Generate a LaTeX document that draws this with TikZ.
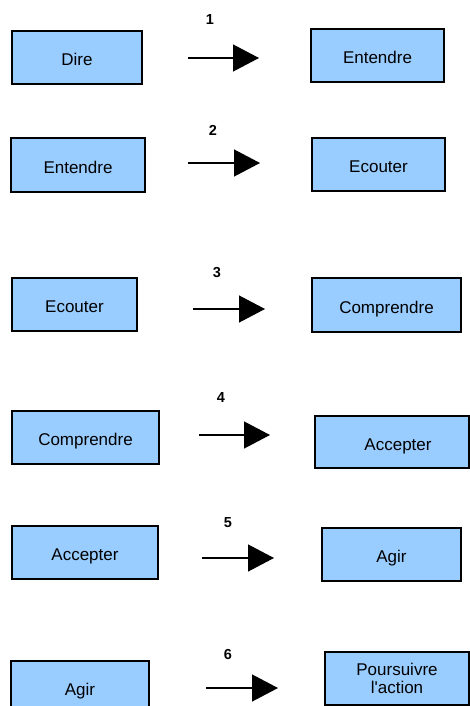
\documentclass[tikz,border=0pt]{standalone}
\usepackage{fontspec}
\setmainfont{Liberation Sans}
\usetikzlibrary{arrows.meta}
\definecolor{boxblue}{RGB}{153,204,255}

\begin{document}
\begin{tikzpicture}[
		x=1pt, y=-1pt,
		>={Triangle[length=26pt,width=27pt]},
		box/.style={
			draw,
			line width=1.5pt,
			fill=boxblue,
			inner sep=0pt,
			align=center,
			text height=16pt,
			text depth=0pt,
			font=\fontsize{17}{18}\selectfont
		},
		flow/.style={->, line width=1.3pt},
		num/.style={font=\bfseries\fontsize{14.5}{15}\selectfont}
		]
		
		\useasboundingbox (0,0) rectangle (470,706);
		\clip (0,0) rectangle (470,706);
		
		% Step 1
		\node[box, minimum width=130pt, minimum height=53pt] (dire) at (77,57.5) {Dire};
		\node[box, minimum width=133pt, minimum height=53pt] (entendreB) at (377.5,55.5) {Entendre};
		\coordinate (s1) at (188,58);
		\coordinate (t1) at (259,58);
		\draw[flow] (s1) -- (t1);
		\node[num] (n1) at (210,20) {1};
		
		% Step 2
		\node[box, minimum width=134pt, minimum height=54pt] (entendreA) at (78,165) {Entendre};
		\node[box, minimum width=133pt, minimum height=53pt] (ecouterB) at (378.5,164.5) {Ecouter};
		\coordinate (s2) at (188,163);
		\coordinate (t2) at (260,163);
		\draw[flow] (s2) -- (t2);
		\node[num] (n2) at (213,130) {2};
		
		% Step 3
		\node[box, minimum width=125pt, minimum height=53pt] (ecouterA) at (74.5,304.5) {Ecouter};
		\node[box, minimum width=149pt, minimum height=54pt] (comprendreB) at (386.5,305) {Comprendre};
		\coordinate (s3) at (193,309);
		\coordinate (t3) at (265,309);
		\draw[flow] (s3) -- (t3);
		\node[num] (n3) at (217,273) {3};
		
		% Step 4
		\node[box, minimum width=147pt, minimum height=53pt] (comprendreA) at (85.5,437.5) {Comprendre};
		\node[box, minimum width=154pt, minimum height=52pt] (accepterB) at (392,442) {\hspace*{12pt}Accepter};
		\coordinate (s4) at (199,435);
		\coordinate (t4) at (270,435);
		\draw[flow] (s4) -- (t4);
		\node[num] (n4) at (221,398) {4};
		
		% Step 5
		\node[box, minimum width=146pt, minimum height=53pt] (accepterA) at (85,552.5) {Accepter};
		\node[box, minimum width=139pt, minimum height=53pt] (agirB) at (391.5,554.5) {Agir};
		\coordinate (s5) at (202,558);
		\coordinate (t5) at (274,558);
		\draw[flow] (s5) -- (t5);
		\node[num] (n5) at (228,523) {5};
		
		% Step 6 (cut off at the page edge)
		\node[box, minimum width=138pt, minimum height=53pt] (agirA) at (80,687.5) {Agir};
		\node[box, text height=, text depth=, minimum width=144pt, minimum height=53pt] (suite) at (397,678.5) {Poursuivre\\l\textquotesingle action};
		\coordinate (s6) at (206,688);
		\coordinate (t6) at (278,688);
		\draw[flow] (s6) -- (t6);
		\node[num] (n6) at (228,654) {6};
		
\end{tikzpicture}
\end{document}
